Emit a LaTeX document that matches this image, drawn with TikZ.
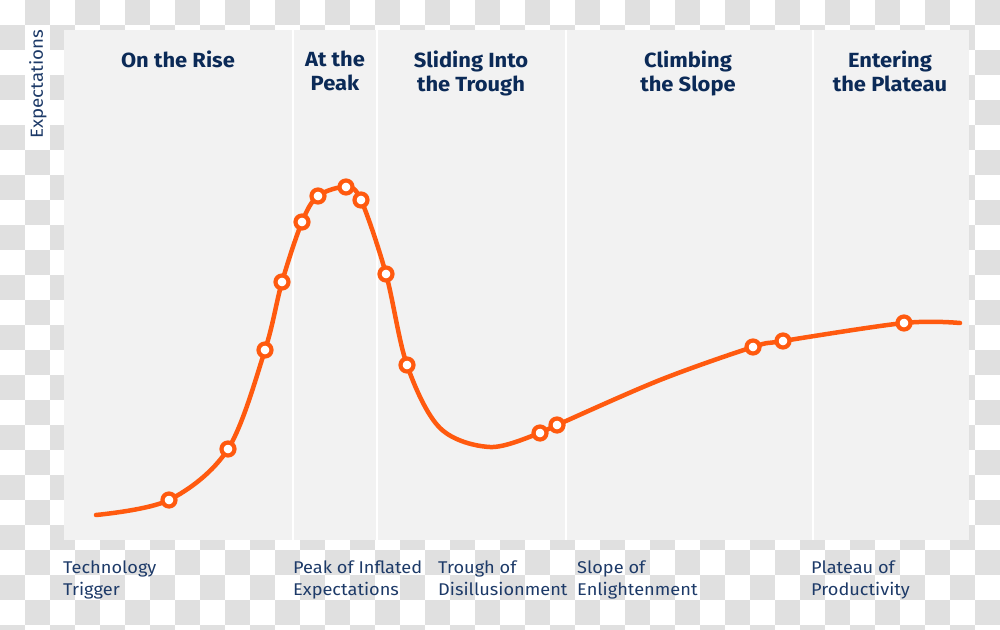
\documentclass[tikz,border=0pt]{standalone}
\usepackage{fontspec}
\setmainfont{Fira Sans}[FakeStretch=1.07]
\usetikzlibrary{positioning}
\definecolor{hcOrange}{HTML}{FF5A0F}
\definecolor{hcNavy}{HTML}{0B2A57}
\definecolor{hcLabel}{HTML}{1D3A68}
\definecolor{hcPanel}{HTML}{F2F2F2}
\definecolor{hcCheck}{HTML}{E0E0E0}
\tikzset{
  checker/.style   = {hcCheck},
  panel/.style     = {fill=hcPanel},
  divider/.style   = {white, line width=2.5pt},
  hypecurve/.style = {hcOrange, line width=4.5pt, line cap=round},
  techdot/.style   = {circle, draw=hcOrange, fill=white, line width=4.2pt,
                      minimum size=13pt, inner sep=0pt},
  phase/.style     = {font=\bfseries\fontsize{20.5}{24}\selectfont, hcNavy,
                      align=center, anchor=north, inner sep=0pt},
  stage/.style     = {font=\fontsize{17}{22}\selectfont, hcLabel,
                      align=left, anchor=north west, inner sep=0pt},
  axislbl/.style   = {font=\fontsize{17.5}{20}\selectfont, hcLabel,
                      rotate=90, inner sep=0pt},
}

\begin{document}
\begin{tikzpicture}[x=1pt, y=-1pt]
  \useasboundingbox (0,0) rectangle (1000,629);
  \clip (0,0) rectangle (1000,629);

  % transparency checkerboard
  \foreach \i in {0,...,39}
    \foreach \j in {0,...,25}
      {\ifodd\numexpr\i+\j\relax \fill[checker] (\i*25,\j*25) rectangle ++(25,25);\fi}
  \fill[white] (25,30) rectangle (50,150);

  % phase panel
  \fill[panel] (64,30) rectangle (969,540);
  \foreach \x in {293,377,566,813}
    \draw[divider] (\x,30) -- (\x,540);

  \node[phase] (rise)    at (178,51) {On the Rise};
  \node[phase] (peak)    at (335,51) {At the\\Peak};
  \node[phase] (trough)  at (471,51) {Sliding Into\\the Trough};
  \node[phase] (slope)   at (688,51) {Climbing\\the Slope};
  \node[phase] (plateau) at (890,51) {Entering\\the Plateau};

  \node[axislbl] (expect) at (38,84) {Expectations};

  % hype curve
  \coordinate (start) at (96,515);
  \coordinate (p1)  at (169,500);
  \coordinate (p2)  at (228,449);
  \coordinate (p3)  at (265,350);
  \coordinate (p4)  at (282,282);
  \coordinate (p5)  at (302,222);
  \coordinate (p6)  at (318,196);
  \coordinate (p7)  at (346,187);
  \coordinate (p8)  at (361,200);
  \coordinate (p9)  at (386,274);
  \coordinate (p10) at (407,365);
  \coordinate (t1)  at (440,428);
  \coordinate (t2)  at (490,447);
  \coordinate (p11) at (540,433);
  \coordinate (p12) at (557,425);
  \coordinate (s1)  at (660,380);
  \coordinate (p13) at (753,347);
  \coordinate (p14) at (783,341);
  \coordinate (p15) at (904,323);
  \coordinate (end) at (960,323);

  \draw[hypecurve] plot[smooth, tension=0.55] coordinates
    {(start) (p1) (p2) (p3) (p4) (p5) (p6) (p7) (p8) (p9) (p10)
     (t1) (t2) (p11) (p12) (s1) (p13) (p14) (p15) (end)};

  \foreach \n in {p1,p2,p3,p4,p5,p6,p7,p8,p9,p10,p11,p12,p13,p14,p15}
    \node[techdot] (dot\n) at (\n) {};

  % stage labels
  \node[stage] (trigger)  at (63,561)  {Technology\\Trigger};
  \node[stage] (inflated) at (293,561) {Peak of Inflated\\Expectations};
  \node[stage] (disill)   at (438,561) {Trough of\\Disillusionment};
  \node[stage] (enlight)  at (577,561) {Slope of\\Enlightenment};
  \node[stage] (product)  at (811,561) {Plateau of\\Productivity};
\end{tikzpicture}
\end{document}
